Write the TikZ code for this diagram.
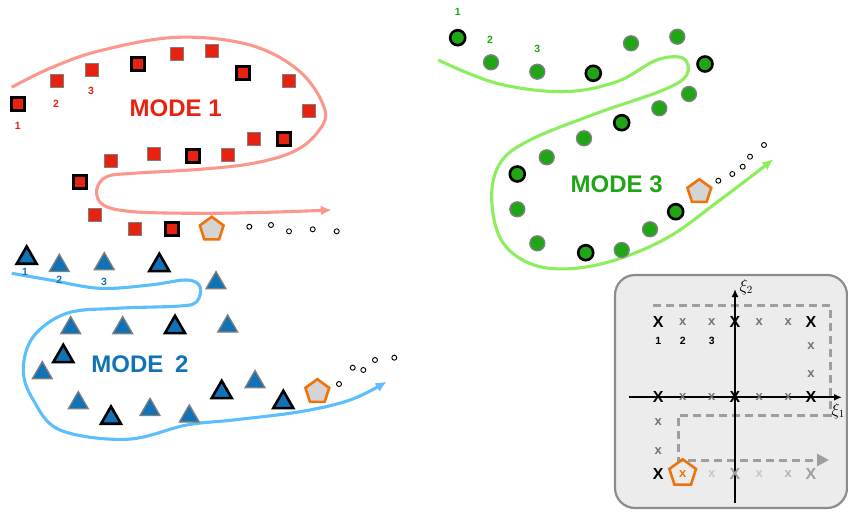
\documentclass[tikz,border=0pt]{standalone}
\usepackage{fontspec}
\setmainfont{Liberation Sans}
\usetikzlibrary{shapes.geometric,arrows.meta}

\definecolor{modered}{RGB}{232,34,16}
\definecolor{trailred}{RGB}{250,152,142}
\definecolor{modeblue}{RGB}{18,114,182}
\definecolor{trailblue}{RGB}{92,190,250}
\definecolor{modegreen}{RGB}{32,165,22}
\definecolor{trailgreen}{RGB}{140,238,92}
\definecolor{pentorange}{RGB}{238,115,10}
\definecolor{panelfill}{RGB}{236,236,236}

\tikzset{
  sq/.style={rectangle,fill=modered,draw=gray,line width=1.3pt,inner sep=0pt,minimum size=13pt},
  tri/.style={regular polygon,regular polygon sides=3,fill=modeblue,draw=gray,line width=1.3pt,
    inner sep=0pt,minimum size=23pt,yshift=-3pt},
  blob/.style={circle,fill=modegreen,draw=gray,line width=1.3pt,inner sep=0pt,minimum size=15pt},
  keyfr/.style={draw=black,line width=2.6pt},
  pent/.style={regular polygon,regular polygon sides=5,fill=black!17,draw=pentorange,
    line width=2.6pt,inner sep=0pt,minimum size=25pt},
  trail/.style={circle,draw=black,line width=0.9pt,inner sep=0pt,minimum size=5pt},
  trailline/.style={line width=3.1pt,-{Latex[length=11pt,width=10pt]}},
  modelabel/.style={font=\fontsize{24}{24}\selectfont\bfseries},
  idx/.style={font=\fontsize{10.5}{10.5}\selectfont\bfseries},
  bigx/.style={font=\fontsize{16}{16}\selectfont\bfseries},
  smallx/.style={font=\fontsize{13}{13}\selectfont\bfseries,text=black!55}
}

\begin{document}
\begin{tikzpicture}[x=1pt,y=-1pt]
  \useasboundingbox (0,0) rectangle (848,511);

  % mode 1
  \draw[trailline,trailred] plot[smooth,tension=0.6] coordinates {(11.7,87.3) (50,68.3) (100,50.7)
    (176.7,37.3) (250,45) (300,71.7) (325,110) (316.7,133.3) (293.3,151.7) (253.3,163.3) (200,169.3)
    (133.3,173.3) (106.7,176.7) (96.7,190) (103.3,205) (133.3,211.7) (200,213.3) (266.7,212.3) (331.7,210)};
  \node[sq,keyfr] (r1) at (17.7,104) {};
  \node[sq] (r2) at (56.7,81) {};
  \node[sq] (r3) at (91.7,70) {};
  \node[sq,keyfr] (r4) at (137.7,64) {};
  \node[sq] (r5) at (176.7,54) {};
  \node[sq] (r6) at (211.7,51) {};
  \node[sq,keyfr] (r7) at (242.7,73) {};
  \node[sq] (r8) at (289.3,81) {};
  \node[sq] (r9) at (309.3,110.7) {};
  \node[sq,keyfr] (r10) at (283.7,138.7) {};
  \node[sq] (r11) at (254.3,138.7) {};
  \node[sq] (r12) at (228.3,155.3) {};
  \node[sq,keyfr] (r13) at (192.7,155.7) {};
  \node[sq] (r14) at (154,154.3) {};
  \node[sq] (r15) at (110.7,161) {};
  \node[sq,keyfr] (r16) at (80,182) {};
  \node[sq] (r17) at (95,215.3) {};
  \node[sq] (r18) at (134.7,229.3) {};
  \node[sq,keyfr] (r19) at (171.7,229) {};
  \node[pent] (pr) at (211.7,229.3) {};
  \node[trail] (rd1) at (249.3,226.7) {};
  \node[trail] (rd2) at (271,225) {};
  \node[trail] (rd3) at (289,231.3) {};
  \node[trail] (rd4) at (312.7,229.3) {};
  \node[trail] (rd5) at (336.7,231.3) {};
  \node[idx,text=modered] (rl1) at (17.7,125.7) {1};
  \node[idx,text=modered] (rl2) at (56,104) {2};
  \node[idx,text=modered] (rl3) at (91,91) {3};
  \node[modelabel,text=modered] (m1) at (175.7,108.7) {MODE 1};

  % mode 2
  \draw[trailline,trailblue] plot[smooth,tension=0.6] coordinates {(11.7,273.3) (50,280) (100,288.3)
    (150,285) (186.7,280) (200,286.7) (196.7,301.7) (180,306) (116.7,308.3) (66.7,313.3) (33.3,336.7)
    (23.3,370) (33.3,400) (60,430) (126.7,439.3) (186.7,425) (233.3,420) (300,411.7) (350,400) (386.7,381.7)};
  \node[tri,keyfr] (b1) at (26.7,255) {};
  \node[tri] (b2) at (59.3,262.7) {};
  \node[tri] (b3) at (104.3,261) {};
  \node[tri,keyfr] (b4) at (159.3,262.3) {};
  \node[tri] (b5) at (216,280) {};
  \node[tri] (b6) at (70.7,325) {};
  \node[tri] (b7) at (122.7,325) {};
  \node[tri,keyfr] (b8) at (175,324.3) {};
  \node[tri] (b9) at (227.7,323.3) {};
  \node[tri,keyfr] (b10) at (63.3,353.3) {};
  \node[tri] (b11) at (42.3,370) {};
  \node[tri] (b12) at (78.3,400) {};
  \node[tri,keyfr] (b13) at (111,415) {};
  \node[tri] (b14) at (150,406.7) {};
  \node[tri] (b15) at (189.3,413.3) {};
  \node[tri,keyfr] (b16) at (221.7,389.3) {};
  \node[tri] (b17) at (255,379) {};
  \node[tri,keyfr] (b18) at (283.3,399.3) {};
  \node[pent] (pb) at (317.3,391.7) {};
  \node[trail] (bd1) at (339,384) {};
  \node[trail] (bd2) at (352.7,367.7) {};
  \node[trail] (bd3) at (363.3,370) {};
  \node[trail] (bd4) at (375,360) {};
  \node[trail] (bd5) at (394.3,357.7) {};
  \node[idx,text=modeblue] (bl1) at (25,272.3) {1};
  \node[idx,text=modeblue] (bl2) at (59.3,280) {2};
  \node[idx,text=modeblue] (bl3) at (104,281.7) {3};
  \node[modelabel,text=modeblue] (m2) at (140,364) {MODE\hspace{5pt} 2};

  % mode 3
  \draw[trailline,trailgreen] plot[smooth,tension=0.6] coordinates {(438.3,60) (496.7,83.3) (563.3,91.7)
    (616.7,81.7) (656.7,60) (683.3,58.3) (686.7,75) (663.3,90) (596.7,113.3) (530,140) (500,163.3)
    (491.7,200) (503.3,243.3) (540,266.7) (596.7,265) (663.3,240) (720,200) (773.3,159.3)};
  \node[blob,keyfr] (g1) at (457.7,37.7) {};
  \node[blob] (g2) at (491,62.3) {};
  \node[blob] (g3) at (537.3,71.7) {};
  \node[blob,keyfr] (g4) at (593.3,73.3) {};
  \node[blob] (g5) at (631,43.3) {};
  \node[blob] (g6) at (677.3,36.7) {};
  \node[blob,keyfr] (g7) at (705,64) {};
  \node[blob] (g8) at (689,94) {};
  \node[blob] (g9) at (659.3,108.3) {};
  \node[blob,keyfr] (g10) at (621.7,122.7) {};
  \node[blob] (g11) at (584,138.3) {};
  \node[blob] (g12) at (546.7,157.3) {};
  \node[blob,keyfr] (g13) at (517.3,174) {};
  \node[blob] (g14) at (517.3,209.3) {};
  \node[blob] (g15) at (537.3,243.3) {};
  \node[blob,keyfr] (g16) at (585.7,252.7) {};
  \node[blob] (g17) at (621.7,250) {};
  \node[blob] (g18) at (650,229.3) {};
  \node[blob,keyfr] (g19) at (675.7,211.7) {};
  \node[pent] (pg) at (699.3,191.7) {};
  \node[trail] (gd1) at (718.3,180.7) {};
  \node[trail] (gd2) at (732.3,174) {};
  \node[trail] (gd3) at (742.7,166.7) {};
  \node[trail] (gd4) at (750,156.7) {};
  \node[trail] (gd5) at (764,145) {};
  \node[idx,text=modegreen] (gl1) at (457.7,11.7) {1};
  \node[idx,text=modegreen] (gl2) at (490,40) {2};
  \node[idx,text=modegreen] (gl3) at (537.3,49) {3};
  \node[modelabel,text=modegreen] (m3) at (616.7,184) {MODE 3};

  % latent grid panel
  \filldraw[fill=panelfill,draw=black!45,line width=2.2pt,rounded corners=20pt] (615,275) rectangle (847,508);
  \draw[black!38,line width=3pt,dashed,dash pattern=on 8pt off 5pt,-{Triangle[length=12pt,width=12pt]}]
    (653,305) -- (830,305) -- (830,415) -- (678,415) -- (678,460) -- (829,460);
  \draw[line width=1.8pt,-{Latex[length=8pt,width=7pt]}] (629,397.3) -- (842,397.3);
  \draw[line width=1.8pt,-{Latex[length=8pt,width=7pt]}] (735,503.3) -- (735,289);
  \node[anchor=west,font=\fontsize{16}{16}\selectfont] (xi2) at (736,287) {$\xi_2$};
  \node[anchor=west,font=\fontsize{16}{16}\selectfont] (xi1) at (828,411) {$\xi_1$};
  \node[bigx] (X1) at (658.3,321.7) {X};
  \node[smallx] (x2) at (682.7,321.7) {x};
  \node[smallx] (x3) at (711.7,321.7) {x};
  \node[bigx] (X4) at (735,321.7) {X};
  \node[smallx] (x5) at (759.3,321.7) {x};
  \node[smallx] (x6) at (788.3,321.7) {x};
  \node[bigx] (X7) at (811,321.7) {X};
  \node[idx] (pl1) at (658.3,340.7) {1};
  \node[idx] (pl2) at (682.7,340.7) {2};
  \node[idx] (pl3) at (711.7,340.7) {3};
  \node[smallx] (x8) at (811,346) {x};
  \node[smallx] (x9) at (811,374) {x};
  \node[bigx] (X10) at (658.3,397.3) {X};
  \node[smallx] (x11) at (682.7,397.3) {x};
  \node[smallx] (x12) at (711.7,397.3) {x};
  \node[bigx] (X13) at (735,397.3) {X};
  \node[smallx] (x14) at (759.3,397.3) {x};
  \node[smallx] (x15) at (788.3,397.3) {x};
  \node[bigx] (X16) at (811,397.3) {X};
  \node[smallx] (x17) at (658.3,421.7) {x};
  \node[smallx] (x18) at (658.3,451) {x};
  \node[bigx] (X19) at (658.3,474.3) {X};
  \node[pent,fill=none,minimum size=28pt] (pp) at (682.7,473.3) {};
  \node[smallx,text=pentorange] (x20) at (682.7,474.3) {x};
  \node[smallx,text=black!22] (x21) at (711.7,474.3) {x};
  \node[bigx,text=black!38] (X22) at (735,474.3) {X};
  \node[smallx,text=black!22] (x23) at (759.3,474.3) {x};
  \node[smallx,text=black!30] (x24) at (788.3,474.3) {x};
  \node[bigx,text=black!38] (X25) at (811,474.3) {X};
\end{tikzpicture}
\end{document}
